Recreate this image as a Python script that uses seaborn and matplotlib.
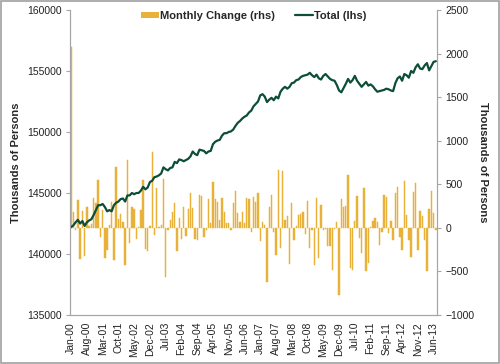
import numpy as np
import pandas as pd
import matplotlib
matplotlib.use("Agg")
import matplotlib.pyplot as plt
import seaborn as sns
from matplotlib.patches import Patch, Rectangle
from matplotlib.lines import Line2D

sns.set_style("white")
plt.rcParams['font.family'] = ['Liberation Sans', 'DejaVu Sans']

# ---- data (Jan-00 .. Jul-13, monthly) ----
months = pd.date_range("2000-01-01", periods=163, freq="MS")
month_labels = [d.strftime("%b-%y") for d in months]

monthly_change = [
    2080, 186, -23, 319, -357, 198, -319, 236, 23, 46,
    338, 289, 547, -106, 205, -346, -251, 34, 293, -372,
    699, 99, 156, 72, -422, 775, -175, 243, 213, -129,
    10, 205, 547, -243, -270, 27, 870, -80, 452, 15,
    30, 560, -566, -30, 91, 186, 281, -270, 114, -129,
    236, -91, 213, 395, 224, -129, -144, 376, 369, -106,
    -23, 330, 60, 528, 327, 300, 91, 338, 186, 61,
    50, -23, 281, 426, 167, 72, 186, 61, 338, 327,
    -53, 357, 296, 403, -156, 72, 30, -623, 243, 376,
    -42, -308, 661, -232, 650, 91, 137, -414, 289, -137,
    20, 148, 156, 182, -68, 304, -232, -23, -422, 338,
    -346, 266, -30, -15, -205, -205, -486, -15, 72, -775,
    330, 243, 250, 612, -460, -480, 84, 365, -118, -289,
    452, -498, -403, 15, 84, 110, 72, -194, -49, 376,
    357, -61, 84, -144, 403, 464, -106, -251, 540, 148,
    -144, -338, 407, 517, -258, 194, 137, -137, -498, 217,
    422, 171, -30,
]

total = [
    142200, 142350, 142600, 142800, 142500, 142700, 142300, 142600, 142750, 142850,
    143200, 143600, 144000, 144000, 144100, 143850, 143500, 143600, 143500, 144000,
    144200, 144300, 144500, 144550, 144300, 144800, 144800, 145000, 144900, 145000,
    145000, 145200, 145500, 145300, 145450, 145900, 146000, 146300, 146350, 146450,
    146600, 147100, 146950, 146850, 147050, 147100, 147550, 147450, 147750, 147700,
    147600, 147700, 147800, 148000, 148400, 148200, 148100, 148550, 148500, 148450,
    148250, 148400, 148450, 149000, 149200, 149300, 149350, 149700, 149900, 149900,
    150000, 150050, 150200, 150500, 150750, 150900, 151100, 151250, 151350, 151600,
    151750, 152100, 152300, 152500, 153000, 153100, 152900, 152450, 152650, 152800,
    152600, 152900, 152750, 153300, 153550, 153700, 153550, 153700, 154000, 154050,
    154250, 154300, 154500, 154600, 154650, 154700, 154850, 154650, 154500, 154700,
    154400, 154300, 154600, 154750, 154550, 154350, 154250, 154200, 153850, 153400,
    153250, 153600, 153950, 154350, 154050, 154250, 154600, 154200, 153950, 153700,
    153900, 154100, 153800, 153900, 153750, 153500, 153300, 153350, 153400, 153450,
    153550, 153500, 153400, 153350, 154000, 154400, 154550, 154200, 154750, 154650,
    154450, 155000, 154850, 155300, 155550, 155200, 155150, 155450, 155650, 155050,
    155400, 155750, 155800,
]

left_ticks = [135000, 140000, 145000, 150000, 155000, 160000]
right_ticks = [-1000, -500, 0, 500, 1000, 1500, 2000, 2500]

bar_color = "#E8B23A"
line_color = "#0C4E37"
spine_color = "#A6A6A6"

df = pd.DataFrame({"idx": np.arange(len(months)), "change": monthly_change, "total": total})

fig = plt.figure(figsize=(5.0, 3.64), dpi=100)
ax_bar = fig.add_axes([0.14, 0.1346, 0.734, 0.838])
ax_line = ax_bar.twinx()

# bars (right axis)
sns.barplot(data=df, x="idx", y="change", native_scale=True, color=bar_color,
            saturation=1, errorbar=None, width=0.6, ax=ax_bar,
            linewidth=0.35, edgecolor=bar_color)
ax_bar.set_ylim(-1000, 2500)
ax_bar.set_yticks(right_ticks)
ax_bar.yaxis.tick_right()
ax_bar.yaxis.set_label_position("right")
ax_bar.set_ylabel("Thousands of Persons", fontsize=8, fontweight="bold", rotation=270, labelpad=10)

# line (left axis)
sns.lineplot(data=df, x="idx", y="total", color=line_color, linewidth=1.6, ax=ax_line)
ax_line.set_ylim(135000, 160000)
ax_line.set_yticks(left_ticks)
ax_line.yaxis.tick_left()
ax_line.yaxis.set_label_position("left")
ax_line.set_ylabel("Thousands of Persons", fontsize=8, fontweight="bold", labelpad=4)

for ax in (ax_bar, ax_line):
    ax.set_xlim(-0.5, len(months) - 0.5)
    ax.set_xlabel("")
    for s in ax.spines.values():
        s.set_color(spine_color)
        s.set_linewidth(0.8)
    ax.spines["top"].set_visible(False)

tick_pos = list(range(0, len(months), 7))
ax_bar.set_xticks(tick_pos)
ax_bar.set_xticklabels([month_labels[i] for i in tick_pos], rotation=90, fontsize=7.5, color="#222222")
ax_bar.tick_params(axis="x", length=3, color=spine_color, pad=2)
ax_bar.tick_params(axis="y", length=3, color=spine_color, labelsize=7.5, labelcolor="#222222", right=True, left=False, pad=3)
ax_line.tick_params(axis="y", length=3, color=spine_color, labelsize=7.5, labelcolor="#222222", left=True, right=False, pad=3)
ax_line.tick_params(axis="x", bottom=False, labelbottom=False)

# line on top of bars
ax_line.set_zorder(ax_bar.get_zorder() + 1)
ax_line.patch.set_visible(False)

handles = [Patch(facecolor=bar_color, edgecolor="none"),
           Line2D([0], [0], color=line_color, linewidth=1.6)]
ax_line.legend(handles, ["Monthly Change (rhs)", "Total (lhs)"], loc="upper center",
               bbox_to_anchor=(0.5, 1.03), ncol=2, frameon=False,
               prop={"weight": "bold", "size": 8}, handlelength=1.6,
               handleheight=0.5, handletextpad=0.1, columnspacing=1.8)

fig.patches.append(Rectangle((0.002, 0.003), 0.996, 0.994, transform=fig.transFigure,
                             fill=False, edgecolor="#A0A0A0", linewidth=1.2))

fig.savefig("out.png", dpi=100)
